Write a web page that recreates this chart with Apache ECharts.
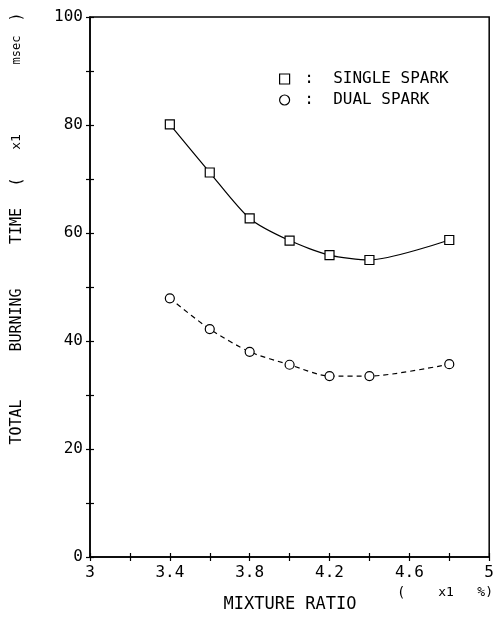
<!DOCTYPE html>
<html>
<head>
<meta charset="utf-8">
<script src="https://cdn.jsdelivr.net/npm/echarts@6/dist/echarts.min.js"></script>
<style>
  html, body { margin: 0; padding: 0; background: #fff; }
  #chart { width: 497px; height: 622px; }
</style>
</head>
<body>
<div id="chart"></div>
<script>
// mixture ratio (x1 %)
var mixtureRatio = [3.4, 3.6, 3.8, 4.0, 4.2, 4.4, 4.8];
// total burning time (x1 msec)
var singleSpark = [80.1, 71.2, 62.7, 58.6, 55.9, 55.0, 58.7];
var dualSpark = [47.9, 42.2, 38.0, 35.6, 33.5, 33.5, 35.7];

var xLabels = ['3', '3.4', '3.8', '4.2', '4.6', '5'];
var yLabels = ['0', '20', '40', '60', '80', '100'];

var FONT = 'DejaVu Sans Mono';

function pairs(xs, ys) {
  return xs.map(function (x, i) { return [x, ys[i]]; });
}

// second copy of each axis only draws the inner half of the cross ticks
function tickAxis(base, inside) {
  return Object.assign({}, base, {
    axisLine: { show: !inside, lineStyle: { color: '#000', width: 1.5 } },
    axisTick: { show: true, inside: inside, length: 4, lineStyle: { color: '#000', width: 1.2 } },
    axisLabel: inside ? { show: false } : base.axisLabel
  });
}

var xBase = {
  type: 'value', min: 3, max: 5, interval: 0.2,
  splitLine: { show: false },
  axisLabel: {
    color: '#000', fontFamily: FONT, fontSize: 16, margin: 8,
    formatter: function (v) {
      var s = String(Math.round(v * 10) / 10);
      return xLabels.indexOf(s) >= 0 ? s : '';
    }
  }
};
var yBase = {
  type: 'value', min: 0, max: 100, interval: 10,
  splitLine: { show: false },
  axisLabel: {
    color: '#000', fontFamily: FONT, fontSize: 16, margin: 7,
    formatter: function (v) {
      var s = String(Math.round(v));
      return yLabels.indexOf(s) >= 0 ? s : '';
    }
  }
};

var chart = echarts.init(document.getElementById('chart'));

var option = {
  backgroundColor: '#fff',
  animation: false,
  grid: {
    left: 90, right: 6, top: 17, bottom: 65,
    show: true, borderColor: '#000', borderWidth: 1.5
  },
  xAxis: [tickAxis(xBase, false), Object.assign(tickAxis(xBase, true), { position: 'bottom' })],
  yAxis: [tickAxis(yBase, false), Object.assign(tickAxis(yBase, true), { position: 'left' })],
  legend: {
    orient: 'vertical',
    left: 274, top: 66,
    itemWidth: 10, itemHeight: 10, itemGap: 5,
    textStyle: { color: '#000', fontFamily: FONT, fontSize: 16 },
    formatter: function (name) { return ' :  ' + name; },
    data: [
      { name: 'SINGLE SPARK', icon: 'rect', itemStyle: { color: '#fff', borderColor: '#000', borderWidth: 1.2 } },
      { name: 'DUAL SPARK', icon: 'circle', itemStyle: { color: '#fff', borderColor: '#000', borderWidth: 1.2 } }
    ]
  },
  graphic: [
    // y axis title, word by word as in the plotter original
    { type: 'text', x: 17, y: 422, rotation: Math.PI / 2, style: { text: 'TOTAL', font: '15px ' + FONT, fill: '#000', align: 'center', verticalAlign: 'middle' } },
    { type: 'text', x: 17, y: 320, rotation: Math.PI / 2, style: { text: 'BURNING', font: '15px ' + FONT, fill: '#000', align: 'center', verticalAlign: 'middle' } },
    { type: 'text', x: 17, y: 226, rotation: Math.PI / 2, style: { text: 'TIME', font: '15px ' + FONT, fill: '#000', align: 'center', verticalAlign: 'middle' } },
    { type: 'text', x: 17, y: 182, rotation: Math.PI / 2, style: { text: '(', font: '15px ' + FONT, fill: '#000', align: 'center', verticalAlign: 'middle' } },
    { type: 'text', x: 17, y: 142, rotation: Math.PI / 2, style: { text: 'x1', font: '13px ' + FONT, fill: '#000', align: 'center', verticalAlign: 'middle' } },
    { type: 'text', x: 17, y: 50, rotation: Math.PI / 2, style: { text: 'msec', font: '12px ' + FONT, fill: '#000', align: 'center', verticalAlign: 'middle' } },
    { type: 'text', x: 17, y: 17, rotation: Math.PI / 2, style: { text: ')', font: '15px ' + FONT, fill: '#000', align: 'center', verticalAlign: 'middle' } },
    // x axis title
    { type: 'text', x: 290, y: 605, style: { text: 'MIXTURE RATIO', font: '17px ' + FONT, fill: '#000', align: 'center', verticalAlign: 'middle' } },
    { type: 'text', x: 397, y: 593, style: { text: '(', font: '14px ' + FONT, fill: '#000', align: 'left', verticalAlign: 'middle' } },
    { type: 'text', x: 493, y: 593, style: { text: 'x1   %)', font: '13px ' + FONT, fill: '#000', align: 'right', verticalAlign: 'middle' } }
  ],
  series: [
    {
      name: 'SINGLE SPARK',
      type: 'line',
      smooth: 0.25,
      data: pairs(mixtureRatio, singleSpark),
      symbol: 'rect', symbolSize: 9,
      itemStyle: { color: '#fff', borderColor: '#000', borderWidth: 1.2 },
      lineStyle: { color: '#000', width: 1.2 }
    },
    {
      name: 'DUAL SPARK',
      type: 'line',
      smooth: 0.25,
      data: pairs(mixtureRatio, dualSpark),
      symbol: 'circle', symbolSize: 9,
      itemStyle: { color: '#fff', borderColor: '#000', borderWidth: 1.2 },
      lineStyle: { color: '#000', width: 1.2, type: [5, 4] }
    }
  ]
};

chart.setOption(option);
</script>
</body>
</html>
